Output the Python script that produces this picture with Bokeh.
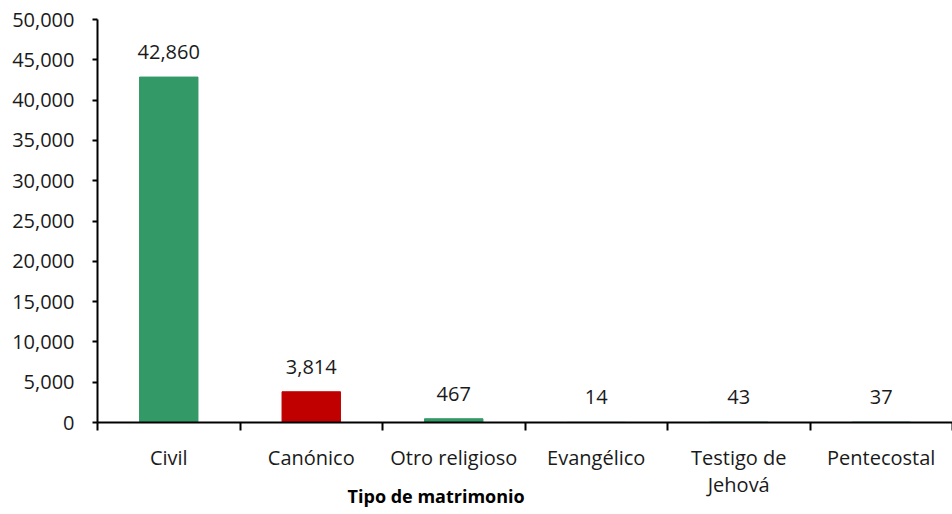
from bokeh.plotting import figure
from bokeh.models import ColumnDataSource, FixedTicker, NumeralTickFormatter, Range1d
from bokeh.core.properties import value as V
from bokeh.embed import file_html
from bokeh.resources import INLINE

categories = ["Civil", "Canónico", "Otro religioso", "Evangélico", "Testigo de\nJehová", "Pentecostal"]
values = [42860, 3814, 467, 14, 43, 37]
colors = ["#339966", "#C00000", "#339966", "#339966", "#339966", "#339966"]
value_labels = ["42,860", "3,814", "467", "14", "43", "37"]
y_ticks = [0, 5000, 10000, 15000, 20000, 25000, 30000, 35000, 40000, 45000, 50000]
x_title = "Tipo de matrimonio"

FONT = "Open Sans"
FS = "20px"

xs = [i + 0.5 for i in range(len(categories))]
src = ColumnDataSource(dict(x=xs, top=values, color=colors, lab=value_labels))

p = figure(width=952, height=514, output_backend="svg", toolbar_location=None,
           x_range=Range1d(0, len(categories)), y_range=Range1d(0, 50000),
           min_border_left=97, min_border_right=0, min_border_top=19, min_border_bottom=92)
p.outline_line_color = None
p.xgrid.grid_line_color = None
p.ygrid.grid_line_color = None

p.vbar(x="x", top="top", width=0.41, color="color", source=src)
p.text(x="x", y="top", text="lab", source=src, text_align="center", text_baseline="alphabetic",
       y_offset=-25, text_font_size=FS, text_color="#1a1a1a", text_font=V(FONT))

# y axis
ya = p.yaxis[0]
ya.ticker = FixedTicker(ticks=y_ticks)
ya.formatter = NumeralTickFormatter(format="0,0")
ya.axis_line_color = "black"
ya.axis_line_width = 2
ya.major_tick_line_color = "black"
ya.major_tick_line_width = 2
ya.major_tick_out = 5
ya.major_tick_in = 0
ya.minor_tick_line_color = None
ya.minor_tick_out = 0
ya.major_label_text_font = FONT
ya.major_label_text_font_size = FS
ya.major_label_text_color = "#1a1a1a"
ya.major_label_standoff = 18

# x axis
xa = p.xaxis[0]
xa.ticker = FixedTicker(ticks=xs, minor_ticks=list(range(len(categories) + 1)))
xa.major_label_overrides = {x: c for x, c in zip(xs, categories)}
xa.axis_line_color = "black"
xa.axis_line_width = 2
xa.major_tick_line_color = None
xa.major_tick_out = 0
xa.major_tick_in = 0
xa.minor_tick_line_color = "black"
xa.minor_tick_line_width = 2
xa.minor_tick_out = 8
xa.minor_tick_in = 0
xa.major_label_text_font = FONT
xa.major_label_text_font_size = FS
xa.major_label_text_color = "#1a1a1a"
xa.major_label_text_line_height = 1.0
xa.major_label_standoff = 13

# axis title, shifted left of the frame centre with trailing no-break spaces
xa.axis_label = x_title + "\u00a0" * 38
xa.axis_label_standoff = -17
xa.axis_label_text_font = FONT
xa.axis_label_text_font_size = "18px"
xa.axis_label_text_font_style = "bold"
xa.axis_label_text_color = "black"

open("out.html", "w").write(file_html(p, INLINE))
